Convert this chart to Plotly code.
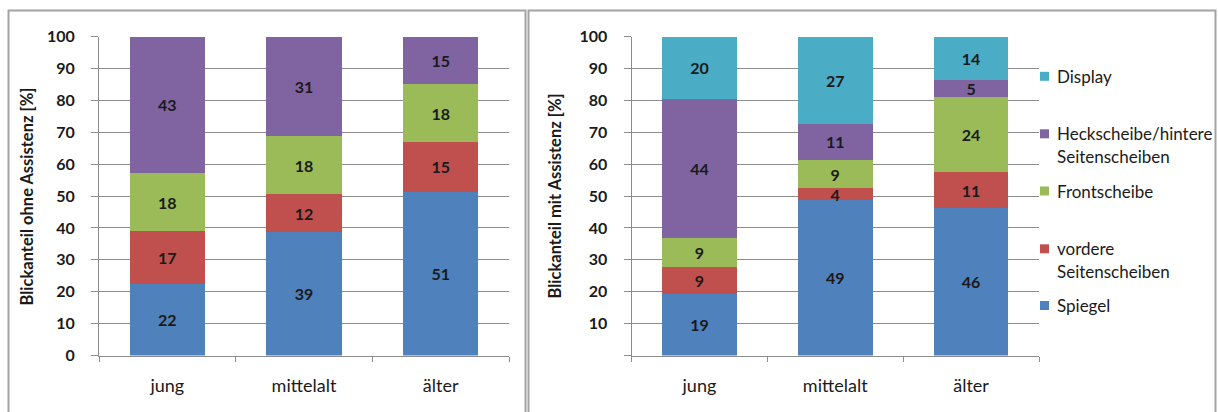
import plotly.graph_objects as go

categories = ["jung", "mittelalt", "älter"]

# Left chart: Blickanteil ohne Assistenz [%]
left_spiegel = [22.3, 38.7, 51.4]
left_vordere = [16.6, 11.9, 15.4]
left_front = [18.3, 18.1, 18.4]
left_heck = [42.8, 31.3, 14.8]

# Right chart: Blickanteil mit Assistenz [%]
right_spiegel = [19.2, 48.8, 46.1]
right_vordere = [8.6, 3.6, 11.4]
right_front = [9.0, 8.9, 23.6]
right_heck = [43.6, 11.4, 5.3]
right_display = [19.6, 27.3, 13.6]

series_names = ["Spiegel", "vordere Seitenscheiben", "Frontscheibe",
                "Heckscheibe/hintere Seitenscheiben", "Display"]
legend_lines = [["Spiegel"], ["vordere", "Seitenscheiben"], ["Frontscheibe"],
                ["Heckscheibe/hintere", "Seitenscheiben"], ["Display"]]
colors = ["#4F81BD", "#C0504D", "#9BBB59", "#8064A2", "#4BACC6"]

y_ticks = [0, 10, 20, 30, 40, 50, 60, 70, 80, 90, 100]

FONT = "Lato"
TXT = "#1a1a1a"
GRID = "#8c8c8c"

fig = go.Figure()

left_series = [left_spiegel, left_vordere, left_front, left_heck]
right_series = [right_spiegel, right_vordere, right_front, right_heck, right_display]

label_font = dict(family=FONT, size=16, color=TXT, weight="bold")

for i, vals in enumerate(left_series):
    fig.add_trace(go.Bar(
        x=categories, y=vals, name=series_names[i], marker_color=colors[i],
        marker_line_width=0, xaxis="x", yaxis="y", showlegend=False,
        text=vals, texttemplate="%{y:.0f}", textposition="inside", textangle=0,
        insidetextanchor="middle", constraintext="none", textfont=label_font,
    ))

for i, vals in enumerate(right_series):
    fig.add_trace(go.Bar(
        x=categories, y=vals, name=series_names[i], marker_color=colors[i],
        marker_line_width=0, xaxis="x2", yaxis="y2", showlegend=False,
        text=vals, texttemplate="%{y:.0f}", textposition="inside", textangle=0,
        insidetextanchor="middle", constraintext="none", textfont=label_font,
    ))

W, H = 1218, 412
y_dom = [(H - 355.5) / H, (H - 36.5) / H]

xcommon = dict(type="category", showline=True, linecolor=GRID, linewidth=1,
               ticks="outside", tickson="boundaries", ticklen=5, tickcolor=GRID,
               ticklabelstandoff=14, showgrid=False, automargin=False,
               tickfont=dict(family=FONT, size=18, color=TXT), fixedrange=True)
ycommon = dict(range=[0, 100], tickvals=y_ticks, showline=True, linecolor=GRID,
               linewidth=1, ticks="outside", ticklen=7, tickcolor=GRID,
               showgrid=True, gridcolor=GRID, gridwidth=1, zeroline=False,
               ticklabelstandoff=13, automargin=False,
               tickfont=dict(family=FONT, size=16, color=TXT, weight="bold"),
               fixedrange=True)

fig.update_layout(
    width=W, height=H, barmode="stack", bargap=0.45,
    margin=dict(l=0, r=0, t=0, b=0, autoexpand=False),
    paper_bgcolor="white", plot_bgcolor="white",
    xaxis=dict(domain=[99 / W, 509 / W], anchor="y", **xcommon),
    yaxis=dict(domain=y_dom, anchor="x", ticktext=[str(v) for v in y_ticks], **ycommon),
    xaxis2=dict(domain=[631.5 / W, 1039 / W], anchor="y2", **xcommon),
    yaxis2=dict(domain=y_dom, anchor="x2",
                ticktext=[""] + [str(v) for v in y_ticks[1:]], **ycommon),
)

# panel borders
border = dict(color="#a3a3a3", width=2)
fig.add_shape(type="path", xref="paper", yref="paper",
              path=f"M {8.5/W} 0 L {8.5/W} {(H-10.5)/H} L {525.5/W} {(H-10.5)/H} L {525.5/W} 0",
              line=border)
fig.add_shape(type="path", xref="paper", yref="paper",
              path=f"M {528.5/W} 0 L {528.5/W} {(H-10.5)/H} L {1215.5/W} {(H-10.5)/H} L {1215.5/W} 0",
              line=border)

# y axis titles
for xc, title in [(27, "Blickanteil ohne Assistenz [%]"), (555, "Blickanteil mit Assistenz [%]")]:
    fig.add_annotation(x=xc / W, y=(H - 196.5) / H, xref="paper", yref="paper",
                       text=title, textangle=-90, showarrow=False,
                       xanchor="center", yanchor="middle",
                       font=dict(family=FONT, size=16.5, color=TXT, weight="bold"))

# manual legend (right side)
legend_y = [305.5, 248.8, 191.0, 133.8, 76.3]
line_h = 22.5
for i in range(len(series_names)):
    yc = legend_y[i]
    fig.add_shape(type="rect", xref="paper", yref="paper",
                  x0=1040 / W, x1=1049 / W, y0=(H - yc - 4.5) / H, y1=(H - yc + 4.5) / H,
                  fillcolor=colors[i], line_width=0)
    for j, ln in enumerate(legend_lines[i]):
        fig.add_annotation(x=1055 / W, y=(H - yc - j * line_h) / H, xref="paper", yref="paper",
                           text=ln, showarrow=False, xanchor="left", yanchor="middle",
                           font=dict(family=FONT, size=17, color=TXT))

fig.write_html("out.html")
